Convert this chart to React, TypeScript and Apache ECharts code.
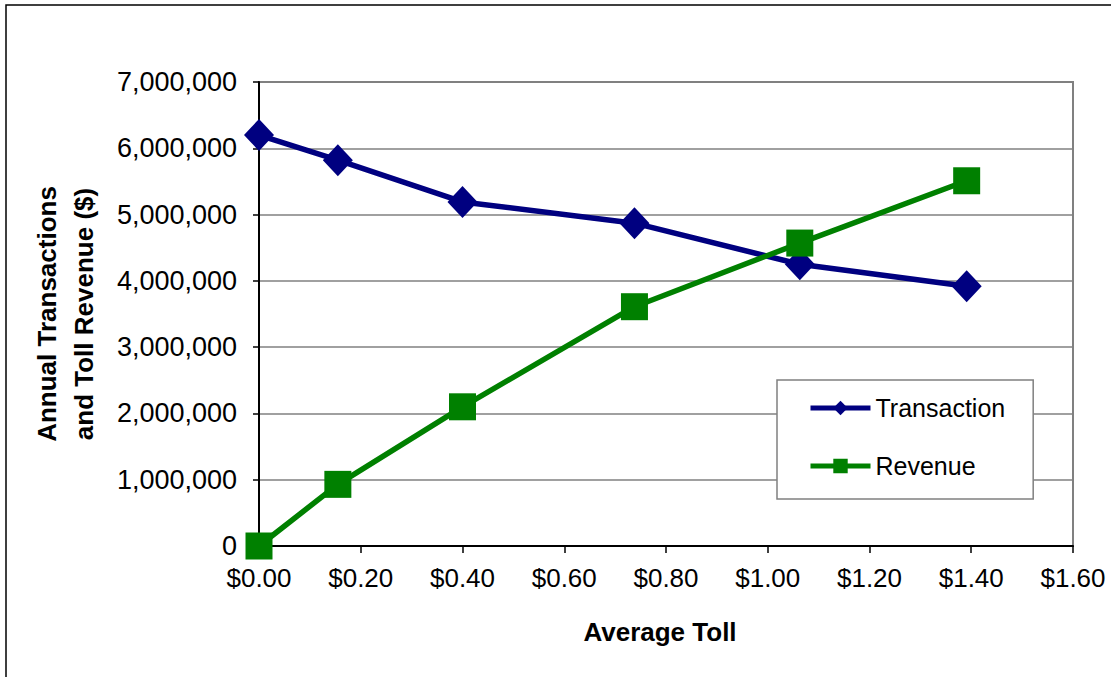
import React, { useEffect, useRef } from "react";
import * as echarts from "echarts";

// Average toll ($) at each scenario
const tolls = [0.0, 0.155, 0.4, 0.738, 1.063, 1.391];
// Annual transactions for each toll level
const transactions = [6200000, 5820000, 5190000, 4870000, 4250000, 3920000];
// Annual toll revenue ($) for each toll level
const revenue = [0, 930000, 2100000, 3610000, 4570000, 5510000];

const FONT = "'Liberation Sans', Arial, sans-serif";

export default function App() {
  const ref = useRef<HTMLDivElement>(null);

  useEffect(() => {
    if (!ref.current) return;
    const chart = echarts.init(ref.current, undefined, { renderer: "svg" });
    const pair = (vals: number[]) => tolls.map((t, i) => [t, vals[i]]);

    chart.setOption({
      animation: false,
      backgroundColor: "#ffffff",
      textStyle: { fontFamily: FONT },
      graphic: [
        {
          type: "rect",
          shape: { x: 6, y: 5, width: 1200, height: 800 },
          style: { fill: "none", stroke: "#000000", lineWidth: 1.5 },
          silent: true,
          z: -10,
        },
      ],
      grid: {
        left: 259,
        top: 82,
        right: 38,
        bottom: 131,
        show: true,
        borderColor: "#808080",
        borderWidth: 2,
        backgroundColor: "#ffffff",
      },
      legend: {
        orient: "vertical",
        left: 777,
        top: 380,
        padding: [14, 28, 19, 31],
        itemGap: 30,
        itemWidth: 60,
        itemHeight: 18,
        backgroundColor: "#ffffff",
        borderColor: "#808080",
        borderWidth: 1.5,
        borderRadius: 0,
        lineStyle: { width: 5 },
        textStyle: {
          fontFamily: FONT,
          fontSize: 25,
          color: "#000000",
          lineHeight: 28,
        },
        data: ["Transaction", "Revenue"],
      },
      xAxis: {
        type: "value",
        min: 0,
        max: 1.6,
        interval: 0.2,
        name: "Average Toll",
        nameLocation: "middle",
        nameGap: 72,
        nameTextStyle: {
          fontFamily: FONT,
          fontSize: 26,
          fontWeight: "bold",
          color: "#000000",
          lineHeight: 28,
          padding: [0, 12, 0, 0],
        },
        axisLine: { show: true, lineStyle: { color: "#000000", width: 2 } },
        axisTick: { show: true, inside: false, length: 7, lineStyle: { color: "#000000", width: 1.5 } },
        splitLine: { show: false },
        axisLabel: {
          margin: 19,
          fontFamily: FONT,
          fontSize: 26,
          color: "#000000",
          formatter: (v: number) => `$${v.toFixed(2)}`,
        },
      },
      yAxis: {
        type: "value",
        min: 0,
        max: 7000000,
        interval: 1000000,
        name: "Annual Transactions\nand Toll Revenue ($)",
        nameLocation: "middle",
        nameRotate: 90,
        nameGap: 157,
        nameTextStyle: {
          fontFamily: FONT,
          fontSize: 26,
          fontWeight: "bold",
          color: "#000000",
          lineHeight: 37,
        },
        axisLine: { show: true, lineStyle: { color: "#000000", width: 2 } },
        axisTick: { show: true, inside: false, length: 6, lineStyle: { color: "#000000", width: 1.5 } },
        splitLine: { show: true, lineStyle: { color: "#808080", width: 1.5 } },
        axisLabel: {
          margin: 22,
          fontFamily: FONT,
          fontSize: 27,
          color: "#000000",
          formatter: (v: number) => v.toLocaleString("en-US"),
        },
      },
      series: [
        {
          name: "Transaction",
          type: "line",
          data: pair(transactions),
          symbol: "diamond",
          symbolSize: [30, 32],
          lineStyle: { color: "#000080", width: 5.5 },
          itemStyle: { color: "#000080" },
          z: 3,
        },
        {
          name: "Revenue",
          type: "line",
          data: pair(revenue),
          symbol: "rect",
          symbolSize: 27,
          lineStyle: { color: "#008000", width: 5.5 },
          itemStyle: { color: "#008000" },
          z: 4,
        },
      ],
    });

    return () => chart.dispose();
  }, []);

  return (
    <div
      ref={ref}
      style={{ position: "fixed", left: 0, top: 0, width: 1111, height: 677 }}
    />
  );
}
